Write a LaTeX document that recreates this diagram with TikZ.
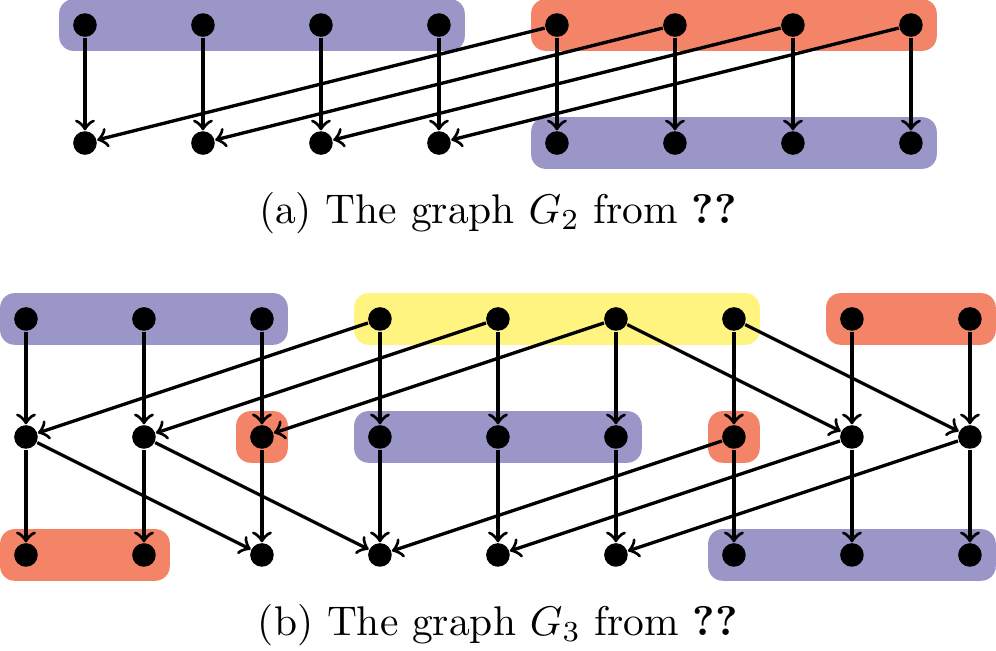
\documentclass[tikz,border=0pt]{standalone}
\usetikzlibrary{fit,backgrounds}
\definecolor{grpurple}{RGB}{155,150,200}
\definecolor{grorange}{RGB}{244,132,104}
\definecolor{gryellow}{RGB}{255,244,128}
\tikzset{
  vtx/.style={circle,fill=black,inner sep=0pt,minimum size=0.2cm},
  edge/.style={->,thick},
  grp/.style={rounded corners=3.5pt,inner sep=0.112cm,draw=none},
}
\begin{document}
\begin{tikzpicture}
\useasboundingbox (0,0) rectangle (8.441,-5.517);
% (a)
\foreach \i in {0,...,7}{
  \node[vtx] (a\i) at (0.72+\i,-0.212) {};
  \node[vtx] (c\i) at (0.72+\i,-1.212) {};
}
\foreach \i in {0,...,7}{ \draw[edge] (a\i) -- (c\i); }
\foreach \i/\j in {4/0,5/1,6/2,7/3}{ \draw[edge] (a\i) -- (c\j); }
\node (capa) at (4.22,-1.805) {(a) The graph $G_2$ from \textbf{??}};
% (b)
\foreach \i in {0,...,8}{
  \node[vtx] (t\i) at (0.22+\i,-2.703) {};
  \node[vtx] (m\i) at (0.22+\i,-3.703) {};
  \node[vtx] (b\i) at (0.22+\i,-4.703) {};
}
\foreach \i in {0,...,8}{ \draw[edge] (t\i) -- (m\i); \draw[edge] (m\i) -- (b\i); }
\foreach \i/\j in {3/0,4/1,5/2,5/7,6/8}{ \draw[edge] (t\i) -- (m\j); }
\foreach \i/\j in {0/2,1/3,6/3,7/4,8/5}{ \draw[edge] (m\i) -- (b\j); }
\node (capb) at (4.22,-5.297) {(b) The graph $G_3$ from \textbf{??}};
\begin{scope}[on background layer]
  \node[grp,fill=grpurple,fit=(a0)(a3)] (ga1) {};
  \node[grp,fill=grorange,fit=(a4)(a7)] (ga2) {};
  \node[grp,fill=grpurple,fit=(c4)(c7)] (ga3) {};
  \node[grp,fill=grpurple,fit=(t0)(t2)] (gb1) {};
  \node[grp,fill=gryellow,fit=(t3)(t6)] (gb2) {};
  \node[grp,fill=grorange,fit=(t7)(t8)] (gb3) {};
  \node[grp,fill=grorange,fit=(m2)] (gb4) {};
  \node[grp,fill=grpurple,fit=(m3)(m5)] (gb5) {};
  \node[grp,fill=grorange,fit=(m6)] (gb6) {};
  \node[grp,fill=grorange,fit=(b0)(b1)] (gb7) {};
  \node[grp,fill=grpurple,fit=(b6)(b8)] (gb8) {};
\end{scope}
\end{tikzpicture}
\end{document}
